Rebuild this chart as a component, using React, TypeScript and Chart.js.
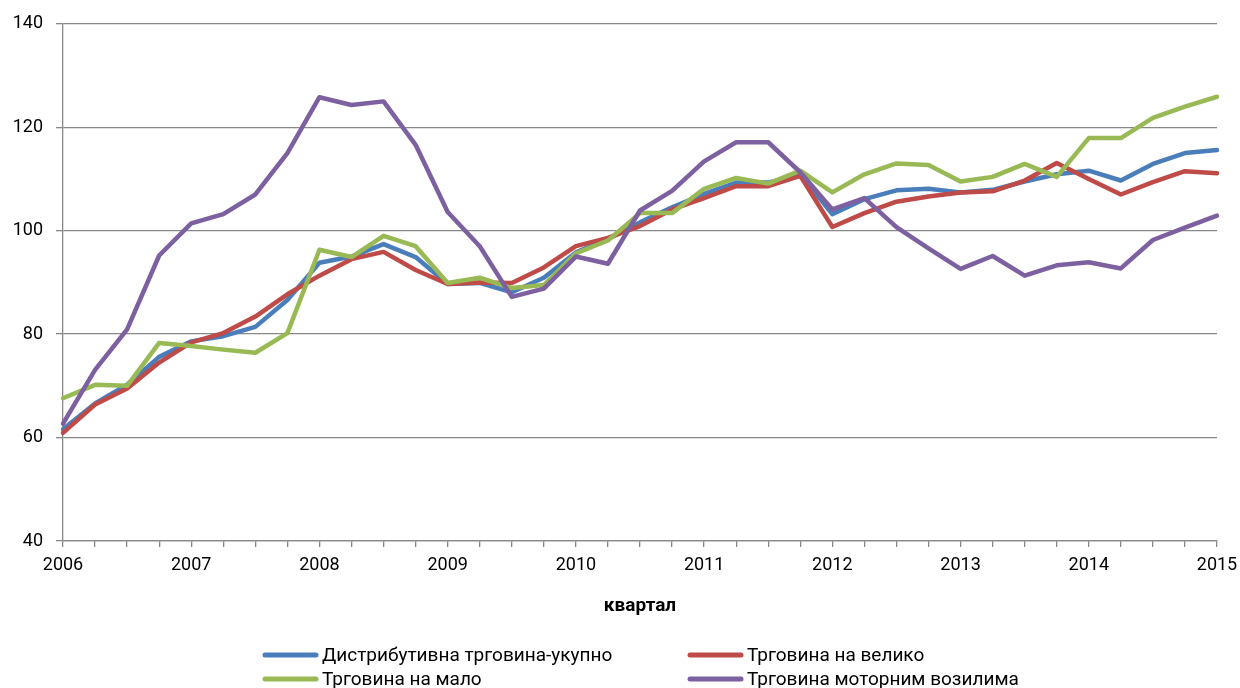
import React, { useEffect, useRef } from "react";
import { Chart, registerables } from "chart.js";

Chart.register(...registerables);

const years = ["2006", "2007", "2008", "2009", "2010", "2011", "2012", "2013", "2014", "2015"];
const quarters = ["Q1", "Q2", "Q3", "Q4"];
const categories: string[] = [];
years.forEach((y, i) => {
  quarters.forEach((q, j) => {
    if (i < years.length - 1 || j === 0) categories.push(y + " " + q);
  });
});

const seriesNames = [
  "Дистрибутивна трговина-укупно",
  "Трговина на велико",
  "Трговина на мало",
  "Трговина моторним возилима",
];

const totalTrade = [
  61.6, 66.6, 70.2, 75.6, 78.6, 79.6, 81.4, 86.6,
  93.8, 95.0, 97.4, 94.9, 89.7, 89.9, 88.1, 90.9,
  95.8, 98.4, 101.6, 104.5, 107.1, 109.3, 109.3, 110.9,
  103.2, 106.1, 107.8, 108.1, 107.4, 107.9, 109.5, 110.9,
  111.6, 109.7, 112.9, 115.0, 115.6,
];
const wholesale = [
  60.9, 66.4, 69.5, 74.5, 78.4, 80.2, 83.4, 87.7,
  91.3, 94.5, 95.9, 92.4, 89.7, 90.0, 89.9, 92.9,
  97.0, 98.6, 100.9, 104.1, 106.3, 108.6, 108.6, 110.6,
  100.7, 103.4, 105.6, 106.6, 107.4, 107.6, 109.7, 113.1,
  110.0, 107.0, 109.4, 111.5, 111.1,
];
const retail = [
  67.6, 70.2, 70.0, 78.3, 77.7, 77.0, 76.4, 80.2,
  96.3, 94.9, 99.0, 97.0, 89.9, 90.9, 88.9, 89.5,
  95.6, 98.1, 103.4, 103.4, 108.1, 110.2, 109.1, 111.6,
  107.4, 110.9, 113.0, 112.7, 109.5, 110.4, 112.9, 110.4,
  117.9, 117.9, 121.8, 124.0, 125.9,
];
const motorVehicles = [
  62.7, 73.1, 80.9, 95.2, 101.4, 103.2, 107.0, 115.0,
  125.8, 124.3, 125.0, 116.6, 103.6, 97.0, 87.2, 88.8,
  95.0, 93.6, 103.9, 107.7, 113.4, 117.1, 117.1, 111.3,
  104.1, 106.3, 100.7, 96.6, 92.6, 95.1, 91.3, 93.3,
  93.9, 92.7, 98.2, 100.6, 102.9,
];

const colors = ["#4A7EBB", "#BE4B48", "#98B954", "#7D60A0"];
const axisTitle = "квартал";
const yTicks = [40, 60, 80, 100, 120, 140];

const FONT = "Roboto";

const legendPlugin = {
  id: "gridLegend",
  afterDraw(chart: any) {
    const ctx = chart.ctx;
    const cols = [263, 688];
    const rows = [655, 679];
    ctx.save();
    chart.data.datasets.forEach((ds: any, i: number) => {
      const x = cols[i % 2];
      const y = rows[Math.floor(i / 2)];
      ctx.strokeStyle = ds.borderColor;
      ctx.lineWidth = 5;
      ctx.lineCap = "round";
      ctx.beginPath();
      ctx.moveTo(x + 2, y);
      ctx.lineTo(x + 53, y);
      ctx.stroke();
      ctx.fillStyle = "#000";
      ctx.font = `19px ${FONT}`;
      ctx.textBaseline = "middle";
      ctx.textAlign = "left";
      ctx.fillText(ds.label, x + 59, y + 1);
    });
    ctx.restore();
  },
};

export default function App() {
  const ref = useRef<HTMLCanvasElement | null>(null);
  useEffect(() => {
    if (!ref.current) return;
    const data = [totalTrade, wholesale, retail, motorVehicles];
    const chart = new Chart(ref.current, {
      type: "line",
      data: {
        labels: categories,
        datasets: data.map((d, i) => ({
          label: seriesNames[i],
          data: d,
          borderColor: colors[i],
          backgroundColor: colors[i],
          borderWidth: 4.5,
          pointRadius: 0,
          tension: 0,
          borderJoinStyle: "round" as const,
          borderCapStyle: "round" as const,
          order: 4 - i,
        })),
      },
      options: {
        animation: false,
        responsive: true,
        maintainAspectRatio: false,
        layout: { padding: { left: 0, right: 23, top: 21, bottom: 60 } },
        plugins: {
          legend: { display: false },
          tooltip: { enabled: false },
        },
        scales: {
          x: {
            type: "category",
            offset: false,
            afterFit(scale: any) {
              scale.height = 87;
              scale.paddingLeft = 0;
              scale.paddingRight = 0;
            },
            grid: {
              drawOnChartArea: false,
              drawTicks: true,
              tickLength: 6,
              color: "#888",
              lineWidth: 1.3,
            },
            border: { display: true, color: "#888", width: 1.3 },
            ticks: {
              autoSkip: false,
              maxRotation: 0,
              padding: 8,
              color: "#000",
              font: { family: FONT, size: 18 },
              callback(_v: any, idx: number) {
                return idx % 4 === 0 ? years[idx / 4] : "";
              },
            },
            title: {
              display: true,
              text: axisTitle,
              color: "#000",
              font: { family: FONT, size: 19, weight: "bold" },
              padding: { top: 0, bottom: 10 },
            },
          },
          y: {
            min: yTicks[0],
            max: yTicks[yTicks.length - 1],
            afterFit(scale: any) {
              scale.width = 63;
            },
            afterBuildTicks(scale: any) {
              scale.ticks = yTicks.map((v) => ({ value: v }));
            },
            grid: {
              color: "#888",
              lineWidth: 1.3,
              tickLength: 7,
              drawTicks: true,
            },
            border: { display: true, color: "#888", width: 1.3 },
            ticks: {
              padding: 13,
              color: "#000",
              font: { family: FONT, size: 18 },
            },
          },
        },
      },
      plugins: [legendPlugin],
    });
    return () => chart.destroy();
  }, []);
  return (
    <div style={{ position: "absolute", left: 0, top: 0, width: 1240, height: 688, background: "#fff" }}>
      <canvas ref={ref} />
    </div>
  );
}
